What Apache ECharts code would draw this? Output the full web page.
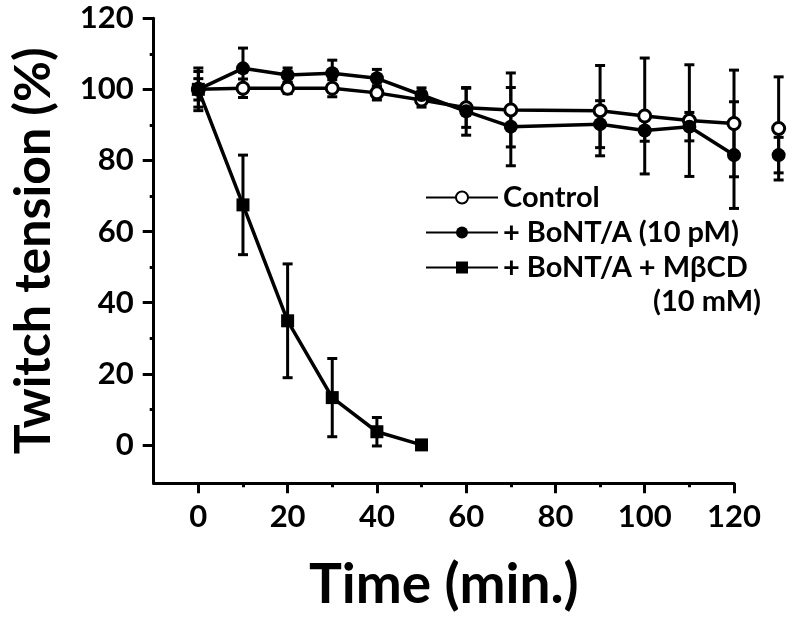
<!DOCTYPE html>
<html><head><meta charset="utf-8">
<script src="https://cdn.jsdelivr.net/npm/echarts@6/dist/echarts.min.js"></script>
<style>html,body{margin:0;padding:0;background:#fff}#c{width:800px;height:626px}</style>
</head><body><div id="c"></div>
<script>
// ---- data ----
const time = [0, 10, 20, 30, 40, 50, 60, 70, 90, 100, 110, 120, 130];
const controlMean = [100, 100.3, 100.3, 100.3, 99, 97, 94.8, 94.2, 94, 92.5, 91.2, 90.4, 89];
const controlSD   = [3, 2.6, 1.5, 2.4, 2, 2, 5.5, 10.4, 12.7, 16.3, 15.7, 15, 14.5];
const bontMean = [100, 105.9, 104, 104.5, 103.1, 98.4, 93.8, 89.5, 90.2, 88.4, 89.5, 81.5, 81.5];
const bontSD   = [5, 5.7, 2, 3.7, 2.5, 2, 6.7, 11, 6.6, 3, 4, 15, 5];
const mbcdTime = [0, 10, 20, 30, 40, 50];
const mbcdMean = [100, 67.5, 34.9, 13.3, 3.7, 0];
const mbcdSD   = [6, 14, 16, 11, 4, 0.8];
const xMajorTicks = [0, 20, 40, 60, 80, 100, 120];
const xMinorTicks = [10, 30, 50, 70, 90, 110];
const yMajorTicks = [0, 20, 40, 60, 80, 100, 120];
const yMinorTicks = [10, 30, 50, 70, 90, 110];
const names = ['Control', '+ BoNT/A (10 pM)', '+ BoNT/A + MβCD (10 mM)'];

// ---- helpers ----
const FONT = 'Lato';
const pairs = (ts, m) => ts.map((t, i) => [t, m[i]]);
const errs = (ts, m, s) => ts.map((t, i) => [t, m[i] - s[i], m[i] + s[i]]);
function renderErr(params, api) {
  const x = api.value(0);
  const lo = api.coord([x, api.value(1)]);
  const hi = api.coord([x, api.value(2)]);
  const hw = 5;
  const style = { stroke: '#000', lineWidth: 3 };
  return { type: 'group', children: [
    { type: 'line', shape: { x1: lo[0], y1: lo[1], x2: hi[0], y2: hi[1] }, style: style },
    { type: 'line', shape: { x1: lo[0] - hw, y1: lo[1], x2: lo[0] + hw, y2: lo[1] }, style: style },
    { type: 'line', shape: { x1: hi[0] - hw, y1: hi[1], x2: hi[0] + hw, y2: hi[1] }, style: style }
  ]};
}
const axLine = { show: true, onZero: false, lineStyle: { color: '#000', width: 3 } };
const tickStyle = { color: '#000', width: 3 };
const labelStyle = { color: '#000', fontFamily: FONT, fontWeight: 'bold', fontSize: 31 };

const chart = echarts.init(document.getElementById('c'), null, { renderer: 'canvas' });
chart.setOption({
  animation: false,
  backgroundColor: '#fff',
  grid: { left: 153.7, right: 66, top: 18.2, bottom: 142.7, containLabel: false, outerBoundsMode: 'none' },
  xAxis: [
    { type: 'value', min: -10, max: 120, position: 'bottom',
      axisLine: axLine,
      axisTick: { show: true, inside: false, customValues: xMajorTicks, length: 10, lineStyle: tickStyle },
      axisLabel: Object.assign({ customValues: xMajorTicks, margin: 18 }, labelStyle),
      splitLine: { show: false },
      name: 'Time (min.)', nameLocation: 'middle', nameGap: 74,
      nameTextStyle: { color: '#000', fontFamily: FONT, fontWeight: 'bold', fontSize: 55 } },
    { type: 'value', min: -10, max: 120, position: 'bottom',
      axisLine: { show: false, onZero: false },
      axisTick: { show: true, customValues: xMinorTicks, length: 4, lineStyle: tickStyle },
      axisLabel: { show: false }, splitLine: { show: false } }
  ],
  yAxis: [
    { type: 'value', min: -10.8, max: 120, position: 'left',
      axisLine: axLine,
      axisTick: { show: true, customValues: yMajorTicks, length: 11, lineStyle: tickStyle },
      axisLabel: Object.assign({ customValues: yMajorTicks, margin: 20 }, labelStyle),
      splitLine: { show: false },
      name: 'Twitch tension (%)', nameLocation: 'middle', nameGap: 95,
      nameTextStyle: { color: '#000', fontFamily: FONT, fontWeight: 'bold', fontSize: 50 } },
    { type: 'value', min: -10.8, max: 120, position: 'left', offset: 0,
      axisLine: { show: false, onZero: false },
      axisTick: { show: true, customValues: yMinorTicks, length: 4, lineStyle: tickStyle },
      axisLabel: { show: false }, splitLine: { show: false } }
  ],
  legend: {
    orient: 'vertical', left: 420, top: 175, itemWidth: 72, itemHeight: 15, itemGap: 0,
    data: names,
    formatter: n => n.replace(' (10 mM)', ''),
    lineStyle: { width: 2 },
    textStyle: { color: '#000', fontFamily: FONT, fontWeight: 'bold', fontSize: 29, lineHeight: 35 }
  },
  graphic: [
    { type: 'text', left: 653, top: 287, style: { text: '(10 mM)', fill: '#000', font: 'bold 29px Lato' } }
  ],
  series: [
    { name: 'errControl', type: 'custom', renderItem: renderErr, clip: false, z: 1,
      encode: { x: 0, y: [1, 2] }, data: errs(time, controlMean, controlSD) },
    { name: 'errBont', type: 'custom', renderItem: renderErr, clip: false, z: 1,
      encode: { x: 0, y: [1, 2] }, data: errs(time, bontMean, bontSD) },
    { name: 'errMbcd', type: 'custom', renderItem: renderErr, clip: false, z: 1,
      encode: { x: 0, y: [1, 2] }, data: errs(mbcdTime, mbcdMean, mbcdSD) },
    { name: names[0], type: 'line', clip: false, z: 2, data: pairs(time, controlMean),
      symbol: 'circle', symbolSize: 12, showAllSymbol: true,
      itemStyle: { color: '#fff', borderColor: '#000', borderWidth: 3 },
      lineStyle: { color: '#000', width: 3.5 } },
    { name: names[1], type: 'line', clip: false, z: 3, data: pairs(time, bontMean),
      symbol: 'circle', symbolSize: 14, showAllSymbol: true,
      itemStyle: { color: '#000' }, lineStyle: { color: '#000', width: 3.5 } },
    { name: names[2], type: 'line', clip: false, z: 4, data: pairs(mbcdTime, mbcdMean),
      symbol: 'rect', symbolSize: 13, showAllSymbol: true,
      itemStyle: { color: '#000' }, lineStyle: { color: '#000', width: 3.5 } }
  ]
});
</script>
</body></html>
